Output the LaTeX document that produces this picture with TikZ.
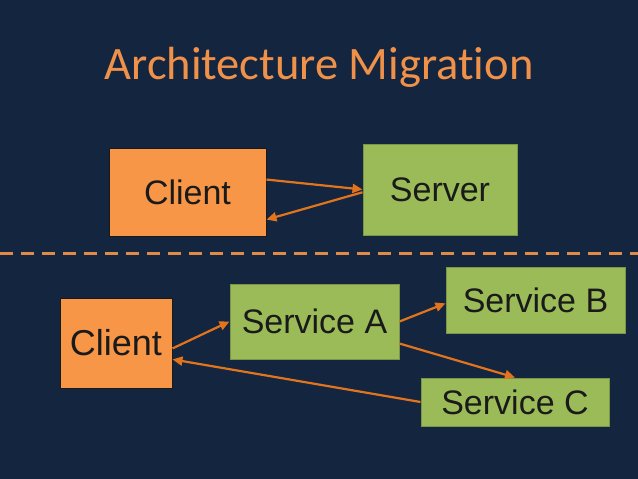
\documentclass[tikz,border=0pt]{standalone}
\usepackage{fontspec}
\setmainfont{Liberation Sans}
\newfontfamily\titlefont[Ligatures=NoCommon]{Carlito}
\usetikzlibrary{arrows.meta,calc}
\definecolor{bg}{HTML}{13253F}
\definecolor{boxorange}{HTML}{F79646}
\definecolor{boxgreen}{HTML}{9BBB59}
\definecolor{arrowc}{HTML}{E2741E}
\definecolor{dashc}{HTML}{E08A4A}
\definecolor{titlec}{HTML}{F0914A}
\definecolor{txt}{HTML}{1A1A1A}
\tikzset{
  box/.style={rectangle, draw=txt, line width=1pt, inner sep=0pt, text=txt, font=\fontsize{34}{34}\selectfont},
  obox/.style={box, fill=boxorange},
  gbox/.style={box, fill=boxgreen, draw=boxgreen!80!black},
  link/.style={draw=arrowc, line width=2.2pt, -{Triangle[length=10pt,width=9pt]}},
}
\begin{document}
\begin{tikzpicture}[x=1pt,y=-1pt]
\useasboundingbox (0,0) rectangle (638,479);
\fill[bg] (0,0) rectangle (638,479);
\node[text=titlec, font=\titlefont\fontsize{46.5}{46.5}\selectfont, anchor=base, inner sep=0pt] (title) at (319,79) {Architecture Migration};
% top
\node[obox, minimum width=157pt, minimum height=88pt] (c1) at (187.5,192) {Client};
\node[gbox, minimum width=154pt, minimum height=91pt] (srv) at (440,189.5) {Server};
\draw[link] ($(c1.north east)!0.36!(c1.south east)$) -- (srv.west);
\draw[link] ($(srv.north west)!0.53!(srv.south west)$) -- ($(c1.north east)!0.81!(c1.south east)$);
% divider
\coordinate (dl) at (0,253);
\coordinate (dr) at (638,253);
\draw[dashc, line width=3pt, dash pattern=on 13pt off 8pt] (dl) -- (dr);
% bottom
\node[obox, minimum width=112pt, minimum height=90pt, font=\fontsize{36}{36}\selectfont] (c2) at (116,343) {Client};
\node[gbox, minimum width=169pt, minimum height=75pt] (sa) at (314.5,321.5) {Service A};
\node[gbox, minimum width=179pt, minimum height=66pt] (sb) at (535.5,300) {Service B};
\node[gbox, minimum width=188pt, minimum height=48pt] (sc) at (515,402) {Service C};
\draw[link] ($(c2.north east)!0.56!(c2.south east)$) -- (sa.west);
\draw[link] (sa.east) -- ($(sb.north west)!0.55!(sb.south west)$);
\draw[link] ($(sa.north east)!0.79!(sa.south east)$) -- (sc.north);
\draw[link] (sc.west) -- ($(c2.north east)!0.68!(c2.south east)$);
\end{tikzpicture}
\end{document}
